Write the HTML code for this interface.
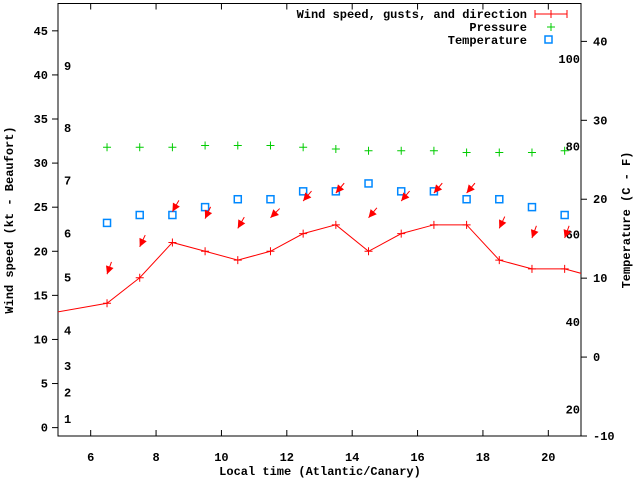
<!DOCTYPE html>
<html><head><meta charset="utf-8"><style>
html,body{margin:0;padding:0;background:#fff;}
svg text{font-family:"Liberation Mono",monospace;font-weight:bold;font-size:12px;fill:#000;}
</style></head><body>
<svg id="chart" width="640" height="480" xmlns="http://www.w3.org/2000/svg">
<rect x="58" y="3.5" width="523" height="432.5" fill="none" stroke="#000" stroke-width="1"/>
<g id="axes"></g>
<g id="marks"></g>
<text x="13" y="220" transform="rotate(-90 13 220)" text-anchor="middle">Wind speed (kt - Beaufort)</text>
<text x="630" y="220" transform="rotate(-90 630 220)" text-anchor="middle">Temperature (C - F)</text>
<text x="320" y="475" text-anchor="middle">Local time (Atlantic/Canary)</text>
<g>
<text x="527" y="18" text-anchor="end">Wind speed, gusts, and direction</text>
<line x1="535" y1="14" x2="567" y2="14" stroke="#f00"/>
<line x1="535" y1="10" x2="535" y2="18" stroke="#f00"/><line x1="567" y1="10" x2="567" y2="18" stroke="#f00"/>
<path d="M547 14h8M551 10v8" stroke="#f00"/>
<text x="527" y="31" text-anchor="end">Pressure</text>
<path d="M547 27h8M551 23v8" stroke="#0c0"/>
<text x="527" y="44" text-anchor="end">Temperature</text>
<rect x="545" y="36" width="7" height="7" fill="none" stroke="#08f" stroke-width="1.5"/>
</g>
</svg>
<script>
const hours=[4.5,6.5,7.5,8.5,9.5,10.5,11.5,12.5,13.5,14.5,15.5,16.5,17.5,18.5,19.5,20.5,21.5];
const windKt=[12.8,14.1,17,21,20,19,20,22,23,20,22,23,23,19,18,18,17];
const ptHours=[6.5,7.5,8.5,9.5,10.5,11.5,12.5,13.5,14.5,15.5,16.5,17.5,18.5,19.5,20.5];
const gustKt=[17.4,20.5,24.5,23.7,22.6,23.8,25.7,26.6,23.8,25.7,26.6,26.6,22.6,21.5,21.5];
const windDirDeg=[20,25,30,25,30,45,40,40,40,40,40,40,25,20,20];
const pressure=[31.8,31.8,31.8,32.0,32.0,32.0,31.8,31.6,31.4,31.4,31.4,31.2,31.2,31.2,31.4];
const tempC=[17,18,18,19,20,20,21,21,22,21,21,20,20,19,18];
const xTicks=[6,8,10,12,14,16,18,20];
const yTicks=[0,5,10,15,20,25,30,35,40,45];
const y2Ticks=[-10,0,10,20,30,40];
const beaufortLabels=["1","2","3","4","5","6","7","8","9"];
const beaufortKt=[1,4,7,11,17,22,28,34,41];
const fLabels=[20,40,60,80,100];

const L=58,R=581,T=3.5,B=436;
const X=v=>L+(v-5)/(21-5)*(R-L);
const Y=v=>B-(v+0.95)/(48.1+0.95)*(B-T);
const Y2=v=>B-(v+10)/(44.8+10)*(B-T);
const NS="http://www.w3.org/2000/svg";
const ax=document.getElementById('axes'),mk=document.getElementById('marks');
function el(p,tag,attrs){const e=document.createElementNS(NS,tag);for(const k in attrs)e.setAttribute(k,attrs[k]);p.appendChild(e);return e;}
xTicks.forEach(v=>{
 const t=el(ax,'text',{x:X(v),y:B+25,'text-anchor':'middle'});t.textContent=v;
 
 
 el(ax,'line',{x1:X(v),x2:X(v),y1:B,y2:B-6,stroke:'#000'});
 el(ax,'line',{x1:X(v),x2:X(v),y1:T,y2:T+6,stroke:'#000'});
});
yTicks.forEach(v=>{
 const t=el(ax,'text',{x:L-10,y:Y(v)+4,'text-anchor':'end'});t.textContent=v;
 
 
 el(ax,'line',{x1:L,x2:L-6,y1:Y(v),y2:Y(v),stroke:'#000'});
});
y2Ticks.forEach(v=>{
 const t=el(ax,'text',{x:R+12,y:Y2(v)+4});t.textContent=v;
 
 
 el(ax,'line',{x1:R,x2:R+6,y1:Y2(v),y2:Y2(v),stroke:'#000'});
});
beaufortLabels.forEach((s,i)=>{
 const t=el(ax,'text',{x:64,y:Y(beaufortKt[i])+4});t.textContent=s;
 
 
});
fLabels.forEach(f=>{
 const t=el(ax,'text',{x:R-1,y:Y2((f-32)/1.8)+4,'text-anchor':'end'});t.textContent=f;
 
 
});
const defs=el(mk,'defs',{});const cp=el(defs,'clipPath',{id:'pc'});el(cp,'rect',{x:L,y:T,width:R-L,height:B-T});
const g=el(mk,'g',{'clip-path':'url(#pc)'});
const line=el(g,'polyline',{points:hours.map((h,i)=>X(h)+','+Y(windKt[i])).join(' '),fill:'none',stroke:'#f00'});


hours.forEach((h,i)=>{
 const p=el(g,'path',{d:`M${X(h)-4} ${Y(windKt[i])}h8M${X(h)} ${Y(windKt[i])-4}v8`,stroke:'#f00'});
 
 
});
ptHours.forEach((h,i)=>{
 const p=el(g,'path',{d:`M${X(h)-4} ${Y(pressure[i])}h8M${X(h)} ${Y(pressure[i])-4}v8`,stroke:'#0c0'});
 
 
 const r=el(g,'rect',{x:X(h)-3.5,y:Y2(tempC[i])-3.5,width:7,height:7,fill:'none',stroke:'#08f','stroke-width':1.5});
 
 
 const tx=X(h),ty=Y(gustKt[i]),a=windDirDeg[i]*Math.PI/180,len=13;
 const sx=tx+len*Math.sin(a),sy=ty-len*Math.cos(a);
 const ux=Math.sin(a),uy=-Math.cos(a);
 const hx=tx+8*ux,hy=ty+8*uy;
 const ag=el(g,'g',{});
 
 
 el(ag,'line',{x1:sx,y1:sy,x2:tx,y2:ty,stroke:'#f00'});
 el(ag,'polygon',{points:`${tx},${ty} ${hx-4*uy},${hy+4*ux} ${hx+4*uy},${hy-4*ux}`,fill:'#f00'});
});
</script>
</body></html>
